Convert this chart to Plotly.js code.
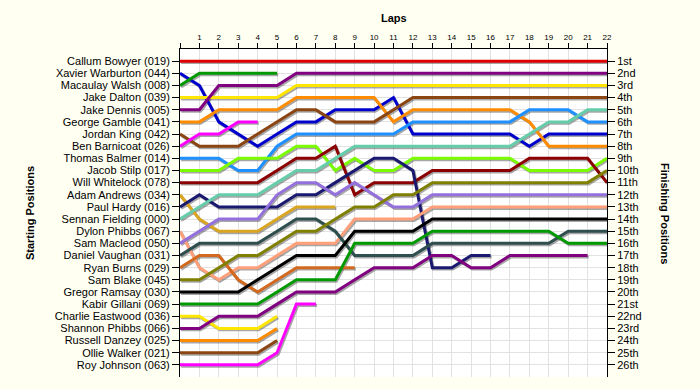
<!DOCTYPE html>
<html>
<head>
<meta charset="utf-8">
<script src="https://cdn.plot.ly/plotly-3.0.1.min.js"></script>
<style>
  html, body { margin: 0; padding: 0; background: #fffff2; }
  #chart { width: 700px; height: 390px; }
</style>
</head>
<body>
<div id="chart"></div>
<script>
// ---- Data ----
const laps = [0,1,2,3,4,5,6,7,8,9,10,11,12,13,14,15,16,17,18,19,20,21,22];
const lapLabels = ["","1","2","3","4","5","6","7","8","9","10","11","12","13","14","15","16","17","18","19","20","21","22"];

const starters = [
  "Callum Bowyer (019)", "Xavier Warburton (044)", "Macaulay Walsh (008)", "Jake Dalton (039)",
  "Jake Dennis (005)", "George Gamble (041)", "Jordan King (042)", "Ben Barnicoat (026)",
  "Thomas Balmer (014)", "Jacob Stilp (017)", "Will Whitelock (078)", "Adam Andrews (034)",
  "Paul Hardy (016)", "Sennan Fielding (000)", "Dylon Phibbs (067)", "Sam Macleod (050)",
  "Daniel Vaughan (031)", "Ryan Burns (029)", "Sam Blake (045)", "Gregor Ramsay (030)",
  "Kabir Gillani (069)", "Charlie Eastwood (036)", "Shannon Phibbs (066)", "Russell Danzey (025)",
  "Ollie Walker (021)", "Roy Johnson (063)"
];
const finishLabels = ["1st","2nd","3rd","4th","5th","6th","7th","8th","9th","10th","11th","12th","13th",
  "14th","15th","16th","17th","18th","19th","20th","21st","22nd","23rd","24th","25th","26th"];

// position by lap (index = lap), one array per driver in starting order
const posBowyer    = [1,1,1,1,1,1,1,1,1,1,1,1,1,1,1,1,1,1,1,1,1,1,1];
const posWarburton = [2,3,6,7,8,7,6,6,5,5,5,4,7,7,7,7,7,7,8,7,7,7,7];
const posWalsh     = [3,2,2,2,2,2];
const posDalton    = [4,4,4,4,4,4,3,3,3,3,3,3,3,3,3,3,3,3,3,3,3,3,3];
const posDennis    = [5,5,3,3,3,3,2,2,2,2,2,2,2,2,2,2,2,2,2,2,2,2,2];
const posGamble    = [6,6,5,5,5,5,4,4,4,4,4,6,5,5,5,5,5,5,6,8,8,8,8];
const posKing      = [7,8,8,8,7,6,5,5,6,6,6,5,4,4,4,4,4,4,4,4,4,4,4];
const posBarnicoat = [8,7,7,6,6];
const posBalmer    = [9,9,9,10,10,8,7,7,7,7,7,7,6,6,6,6,6,6,5,5,5,6,6];
const posStilp     = [10,10,10,9,9,9,8,8,10,9,10,10,9,9,9,9,9,9,10,10,10,10,9];
const posWhitelock = [11,11,11,11,11,10,9,9,8,12,11,11,11,10,10,10,10,10,9,9,9,9,11];
const posAndrews   = [12,14,15,15,15,14,13,13,13];
const posHardy     = [13,12,13,13,13,13,12,12,11,10,9,9,10,18,18,17,17];
const posFielding  = [14,13,12,12,12,11,10,10,9,8,8,8,8,8,8,8,8,8,7,6,6,5,5];
const posDPhibbs   = [15,18,19,18,18,17,16,16,16,14,14,14,14,13,13,13,13,13,13,13,13,13,13];
const posMacleod   = [16,15,14,14,14,12,11,11,12,11,12,13,13,12,12,12,12,12,12,12,12,12,12];
const posVaughan   = [17,16,16,16,16,15,14,14,15,17,17,17,17,16,16,16,16,16,16,16,15,15,15];
const posBurns     = [18,17,17,19,20,19,18,18,18,18];
const posBlake     = [19,19,18,17,17,16,15,15,14,13,13,12,12,11,11,11,11,11,11,11,11,11,10];
const posRamsay    = [20,20,20,20,19,18,17,17,17,15,15,15,15,14,14,14,14,14,14,14,14,14,14];
const posGillani   = [21,21,21,21,21,20,19,19,19,16,16,16,16,15,15,15,15,15,15,15,16,16,16];
const posEastwood  = [22,22,23,23,23,22];
const posSPhibbs   = [23,23,22,22,22,21,20,20,20,19,18,18,18,17,17,18,18,17,17,17,17,17];
const posDanzey    = [24,24,24,24,24,23];
const posWalker    = [25,25,25,25,25,24];
const posJohnson   = [26,26,26,26,26,25,21,21];

const allPositions = [posBowyer,posWarburton,posWalsh,posDalton,posDennis,posGamble,posKing,posBarnicoat,
  posBalmer,posStilp,posWhitelock,posAndrews,posHardy,posFielding,posDPhibbs,posMacleod,posVaughan,
  posBurns,posBlake,posRamsay,posGillani,posEastwood,posSPhibbs,posDanzey,posWalker,posJohnson];

const lineColors = ["#e00000","#0000cd","#009a00","#ffe600","#800080","#ff8c00","#8b4513","#ff00ff",
  "#1e90ff","#7cfc00","#8b0000","#daa520","#191970","#66cdaa","#ffa07a","#9370db","#2f4f4f",
  "#d2691e","#808000","#000000","#009a00","#ffe600","#800080","#ff8c00","#8b4513","#ff00ff"];

// ---- Traces ----
const traces = [];
allPositions.forEach((p, i) => {
  traces.push({
    type: "scatter", mode: "lines", x: laps.slice(0, p.length), y: p,
    xaxis: "x", yaxis: "y", hoverinfo: "skip", showlegend: false,
    line: { color: "rgba(60,60,60,0.45)", width: 3 }
  });
});
allPositions.forEach((p, i) => {
  traces.push({
    type: "scatter", mode: "lines", x: laps.slice(0, p.length), y: p,
    xaxis: "x2", yaxis: "y2", name: starters[i], showlegend: false,
    line: { color: lineColors[i], width: 3 }
  });
});
// dummy trace to activate right axis
traces.push({ type: "scatter", mode: "markers", x: [0], y: [1], xaxis: "x2", yaxis: "y3",
  marker: { opacity: 0 }, hoverinfo: "skip", showlegend: false });

const rows = starters.map((_, i) => i + 1);
const font = "Liberation Sans, Arial, sans-serif";

const layout = {
  width: 700, height: 390,
  margin: { l: 180, r: 93, t: 49, b: 13 },
  paper_bgcolor: "#fffff2",
  plot_bgcolor: "#ffffff",
  font: { family: font, color: "#000" },
  showlegend: false,
  xaxis: { range: [-0.06, 21.94], visible: false, fixedrange: true },
  yaxis: { range: [26.88, -0.12], visible: false, fixedrange: true },
  xaxis2: {
    overlaying: "x", side: "top", range: [0, 22],
    tickmode: "array", tickvals: laps, ticktext: lapLabels,
    ticks: "outside", ticklen: 5, tickcolor: "#000", tickwidth: 1,
    tickfont: { size: 8, family: font },
    showline: true, linecolor: "#000", linewidth: 1,
    showgrid: true, gridcolor: "#e2e2e2", gridwidth: 1, zeroline: false
  },
  yaxis2: {
    overlaying: "y", side: "left", range: [27, 0],
    tickmode: "array", tickvals: rows, ticktext: starters,
    ticks: "outside", ticklen: 7, tickcolor: "#000",
    tickfont: { size: 11, family: font },
    showline: true, linecolor: "#000", linewidth: 1,
    showgrid: true, gridcolor: "#e2e2e2", zeroline: false
  },
  yaxis3: {
    overlaying: "y", side: "right", range: [27, 0], anchor: "x2",
    tickmode: "array", tickvals: rows, ticktext: finishLabels,
    ticks: "outside", ticklen: 7, tickcolor: "#000",
    tickfont: { size: 11, family: font },
    showline: true, linecolor: "#000", linewidth: 1,
    showgrid: false, zeroline: false
  },
  annotations: [
    { text: "<b>Laps</b>", xref: "paper", yref: "paper", x: 0.5, y: 1.0945,
      xanchor: "center", yanchor: "middle", showarrow: false,
      font: { size: 11, family: font } },
    { text: "<b>Starting Positions</b>", xref: "paper", yref: "paper", x: -0.351, y: 0.5,
      xanchor: "center", yanchor: "middle",
      textangle: -90, showarrow: false, font: { size: 11, family: font } },
    { text: "<b>Finishing Positions</b>", xref: "paper", yref: "paper", x: 1.136, y: 0.5,
      xanchor: "center", yanchor: "middle",
      textangle: 90, showarrow: false, font: { size: 11, family: font } }
  ]
};

Plotly.newPlot("chart", traces, layout, { displayModeBar: false, staticPlot: true });
</script>
</body>
</html>
